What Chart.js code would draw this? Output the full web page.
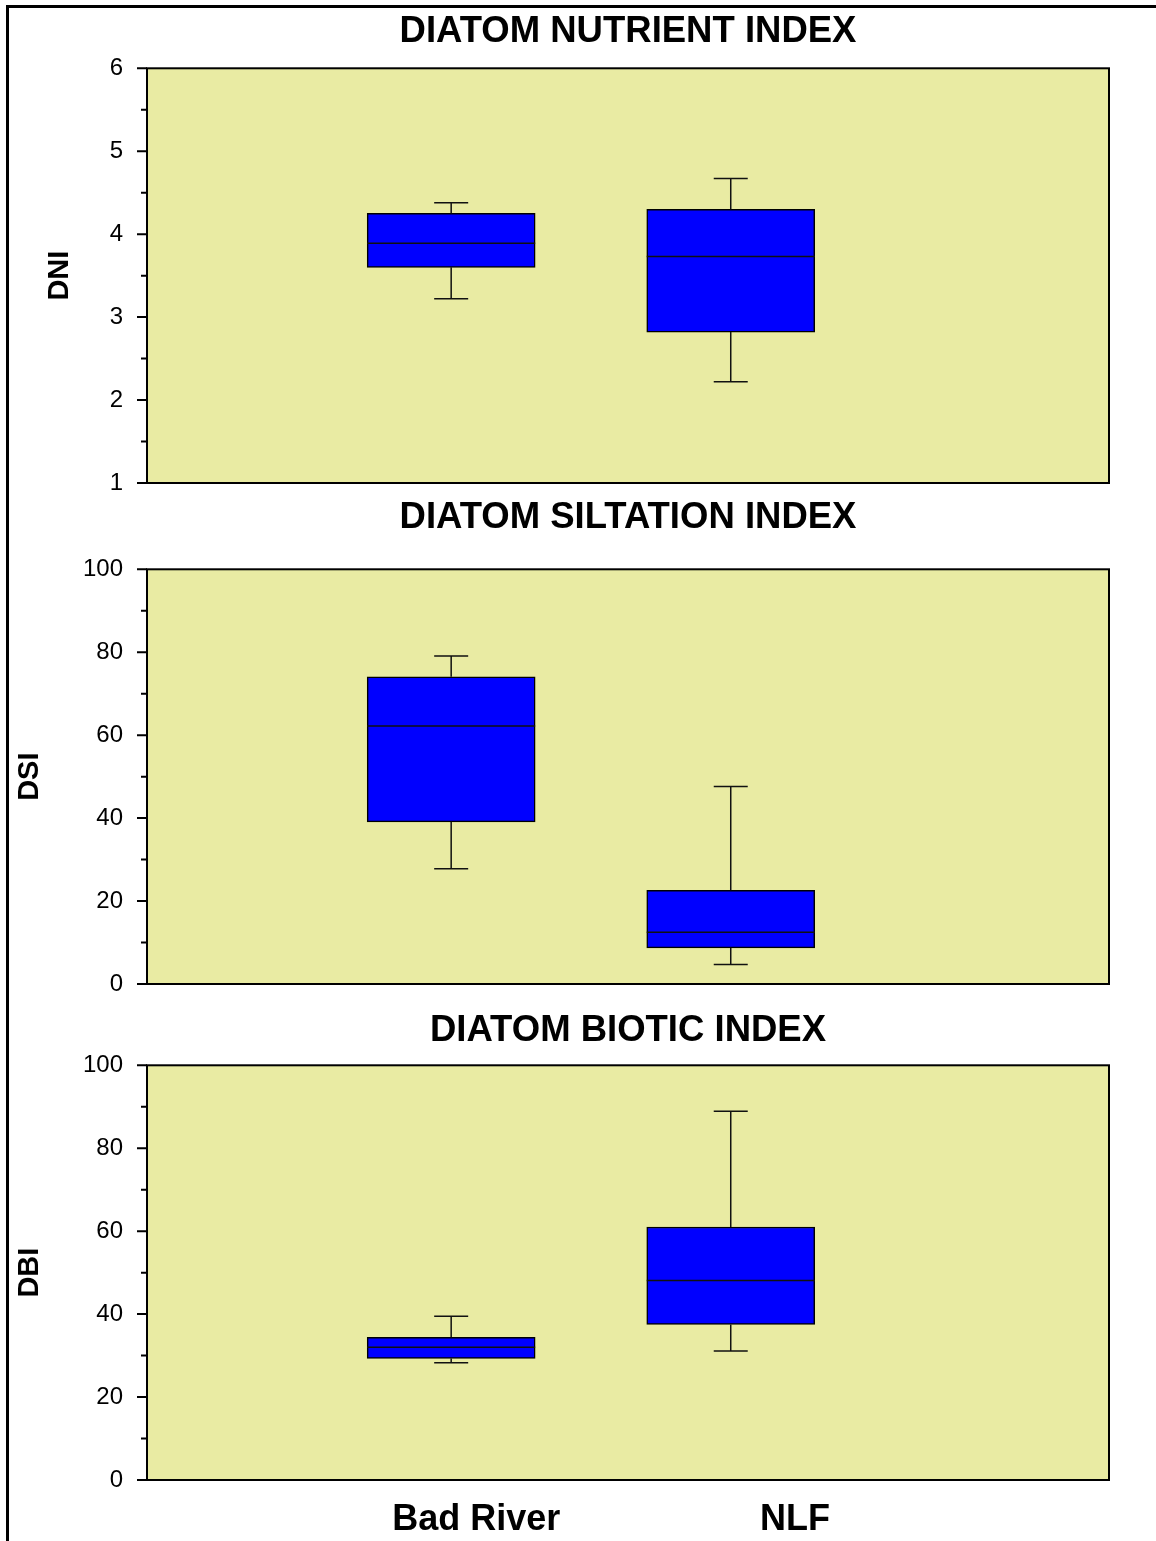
<!DOCTYPE html>
<html>
<head>
<meta charset="utf-8">
<script src="https://cdn.jsdelivr.net/npm/chart.js@4.4.1/dist/chart.umd.min.js"></script>
<style>
  html, body { margin: 0; padding: 0; background: #fff; overflow: hidden; }
  #page { position: relative; width: 1156px; height: 1541px; }
  #frame { position: absolute; left: 6px; top: 5px; width: 1200px; height: 1600px;
           border-left: 3px solid #000; border-top: 3px solid #000; }
  .panel { position: absolute; left: 0; width: 1156px; }
</style>
</head>
<body>
<div id="page">
  <div id="frame"></div>
  <div class="panel" style="top:0;height:500px"><canvas id="dniChart"></canvas></div>
  <div class="panel" style="top:480px;height:520px"><canvas id="dsiChart"></canvas></div>
  <div class="panel" style="top:990px;height:551px"><canvas id="dbiChart"></canvas></div>
</div>
<script>
// categories and box positions on the x axis
const categories = ['Bad River', 'NLF'];
const boxX = [1, 2];

// Diatom Nutrient Index
const dniMin = [3.22, 2.22];
const dniQ1  = [3.60, 2.82];
const dniMed = [3.89, 3.73];
const dniQ3  = [4.25, 4.30];
const dniMax = [4.38, 4.67];

// Diatom Siltation Index
const dsiMin = [27.8, 4.7];
const dsiQ1  = [39.1, 8.7];
const dsiMed = [62.2, 12.5];
const dsiQ3  = [74.1, 22.6];
const dsiMax = [79.1, 47.6];

// Diatom Biotic Index
const dbiMin = [28.3, 31.1];
const dbiQ1  = [29.3, 37.5];
const dbiMed = [32.0, 48.1];
const dbiQ3  = [34.4, 61.0];
const dbiMax = [39.5, 88.9];

// style
const FONT = '"Liberation Sans", Arial, sans-serif';
const PLOT_BG = '#e9eba3';
const BOX_FILL = '#0000ff';
const X_MIN = -0.088, X_MAX = 3.353;
const labelShift = [0.09, 0.23];

const boxPlugin = {
  id: 'boxWhiskers',
  beforeDraw(chart) {
    const { ctx, chartArea: a } = chart;
    ctx.save();
    ctx.fillStyle = PLOT_BG;
    ctx.fillRect(a.left, a.top, a.width, a.height);
    ctx.restore();
  },
  afterDatasetsDraw(chart) {
    const { ctx, chartArea: a, scales: { y } } = chart;
    const st = chart.data.datasets[0].stats;
    const meta = chart.getDatasetMeta(0);
    ctx.save();
    ctx.strokeStyle = '#111';
    ctx.lineWidth = 1.5;
    meta.data.forEach((bar, i) => {
      const x = bar.x, half = bar.width / 2, cap = 17;
      const yMin = y.getPixelForValue(st.min[i]);
      const yQ1 = y.getPixelForValue(st.q1[i]);
      const yMed = y.getPixelForValue(st.med[i]);
      const yQ3 = y.getPixelForValue(st.q3[i]);
      const yMax = y.getPixelForValue(st.max[i]);
      ctx.beginPath();
      // median
      ctx.moveTo(x - half, yMed); ctx.lineTo(x + half, yMed);
      // whiskers
      ctx.moveTo(x, yQ3); ctx.lineTo(x, yMax);
      ctx.moveTo(x - cap, yMax); ctx.lineTo(x + cap, yMax);
      ctx.moveTo(x, yQ1); ctx.lineTo(x, yMin);
      ctx.moveTo(x - cap, yMin); ctx.lineTo(x + cap, yMin);
      ctx.stroke();
    });

    // plot frame
    ctx.strokeStyle = '#000';
    ctx.lineWidth = 2;
    ctx.strokeRect(a.left, a.top, a.width, a.height);

    // major and minor ticks on the y axis
    ctx.beginPath();
    const ticks = y.ticks.map(t => t.value);
    ticks.forEach((v, i) => {
      const py = y.getPixelForValue(v);
      ctx.moveTo(a.left - 10, py); ctx.lineTo(a.left, py);
      if (i < ticks.length - 1) {
        const pm = y.getPixelForValue((v + ticks[i + 1]) / 2);
        ctx.moveTo(a.left - 6, pm); ctx.lineTo(a.left, pm);
      }
    });
    ctx.stroke();
    ctx.restore();
  }
};

function makeChart(id, cfg) {
  const showX = !!cfg.showX;
  new Chart(document.getElementById(id), {
    type: 'bar',
    data: {
      datasets: [{
        data: boxX.map((x, i) => ({ x: x, y: [cfg.q1[i], cfg.q3[i]] })),
        stats: { min: cfg.min, q1: cfg.q1, med: cfg.med, q3: cfg.q3, max: cfg.max },
        backgroundColor: BOX_FILL,
        borderColor: '#000',
        borderWidth: 1.5,
        borderSkipped: false,
        barThickness: 168
      }]
    },
    options: {
      responsive: true,
      maintainAspectRatio: false,
      animation: false,
      layout: { padding: { left: 0, right: 47, top: 0, bottom: cfg.padBottom } },
      plugins: {
        legend: { display: false },
        tooltip: { enabled: false },
        title: {
          display: true,
          text: cfg.title,
          fullSize: false,
          color: '#000',
          font: { family: FONT, size: 36.5, weight: 'bold' },
          padding: { top: cfg.titleTop, bottom: cfg.titleBottom }
        }
      },
      scales: {
        x: {
          type: 'linear',
          min: X_MIN,
          max: X_MAX,
          offset: false,
          display: showX,
          grid: { display: false, drawTicks: false },
          border: { display: false },
          afterBuildTicks: s => { s.ticks = boxX.map((v, i) => ({ value: v + labelShift[i] })); },
          ticks: {
            padding: 18,
            maxRotation: 0,
            autoSkip: false,
            color: '#000',
            font: { family: FONT, size: 36, weight: 'bold' },
            callback: (v, i) => categories[i]
          },
          afterFit: s => { s.height = showX ? 61 : 0; s.paddingLeft = 0; s.paddingRight = 0; }
        },
        y: {
          min: cfg.yMin,
          max: cfg.yMax,
          ticks: { stepSize: cfg.step, padding: 24, color: '#000', font: { family: FONT, size: 24 } },
          grid: { display: false, drawTicks: false },
          border: { display: false },
          title: {
            display: true,
            text: cfg.yTitle,
            color: '#000',
            font: { family: FONT, size: 29, weight: 'bold' },
            padding: { top: cfg.yTitlePad, bottom: 0 }
          },
          afterFit: s => { s.width = 147; s.paddingTop = 0; s.paddingBottom = 0; }
        }
      }
    },
    plugins: [boxPlugin]
  });
}

makeChart('dniChart', {
  title: 'DIATOM NUTRIENT INDEX', yTitle: 'DNI', yTitlePad: 42.6,
  yMin: 1, yMax: 6, step: 1,
  min: dniMin, q1: dniQ1, med: dniMed, q3: dniQ3, max: dniMax,
  titleTop: 10.5, titleBottom: 14, padBottom: 17
});

makeChart('dsiChart', {
  title: 'DIATOM SILTATION INDEX', yTitle: 'DSI', yTitlePad: 12.6,
  yMin: 0, yMax: 100, step: 20,
  min: dsiMin, q1: dsiQ1, med: dsiMed, q3: dsiQ3, max: dsiMax,
  titleTop: 16.5, titleBottom: 29, padBottom: 16
});

makeChart('dbiChart', {
  title: 'DIATOM BIOTIC INDEX', yTitle: 'DBI', yTitlePad: 12.6,
  yMin: 0, yMax: 100, step: 20, showX: true,
  min: dbiMin, q1: dbiQ1, med: dbiMed, q3: dbiQ3, max: dbiMax,
  titleTop: 19.5, titleBottom: 12, padBottom: 0
});
</script>
</body>
</html>
